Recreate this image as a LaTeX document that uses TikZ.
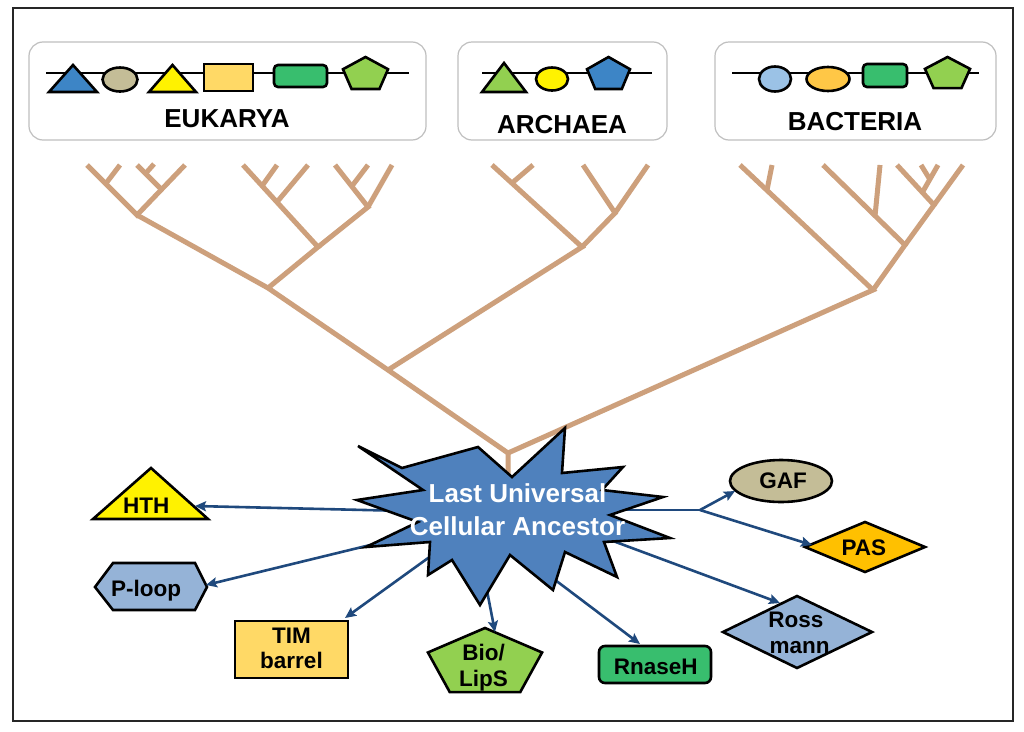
\documentclass[tikz,border=0pt]{standalone}
\usepackage{fontspec}
\setmainfont{Liberation Sans}
\usetikzlibrary{arrows.meta}
\definecolor{treecol}{RGB}{205,160,124}
\definecolor{arrowblue}{RGB}{31,73,125}
\definecolor{starblue}{RGB}{79,129,189}
\definecolor{dblue}{RGB}{61,133,198}
\definecolor{tanfill}{RGB}{196,189,151}
\definecolor{lorange}{RGB}{255,217,102}
\definecolor{dgreen}{RGB}{56,190,110}
\definecolor{lgreen}{RGB}{146,208,80}
\definecolor{lblue}{RGB}{149,179,215}
\definecolor{pasorange}{RGB}{255,192,0}
\definecolor{bacblue}{RGB}{155,194,230}
\definecolor{bacorange}{RGB}{255,199,70}
\newcommand\drawpent[5]{\draw[#1] (#2,{#3-#5}) -- ({#2+0.951*#4},{#3-0.309*#5}) -- ({#2+0.588*#4},{#3+0.809*#5}) -- ({#2-0.588*#4},{#3+0.809*#5}) -- ({#2-0.951*#4},{#3-0.309*#5}) -- cycle;}
\begin{document}
\begin{tikzpicture}[x=1pt,y=-1pt,
  panel/.style={draw=black!25,line width=1.2pt,rounded corners=14pt,fill=white},
  domline/.style={draw=black,line width=2.6pt},
  dom/.style={draw=black,line width=2.6pt},
  treeline/.style={draw=treecol,line width=5pt},
  arr/.style={draw=arrowblue,line width=2.6pt,-{Stealth[length=11pt,width=10pt,inset=2pt]}},
  biglabel/.style={font=\fontsize{26}{30}\selectfont\bfseries,inner sep=0pt,anchor=base},
  lab/.style={font=\fontsize{22.5}{26}\selectfont\bfseries,inner sep=0pt,anchor=base},
  starlab/.style={font=\fontsize{26}{32}\selectfont\bfseries,text=white,inner sep=0pt,anchor=base}]
\useasboundingbox (0,0) rectangle (1024,731);
\fill[white] (0,0) rectangle (1024,731);
\draw[black!85,line width=2pt] (12.7,8) rectangle (1013,720.5);

% ---- top panels ----
\draw[panel] (29,42) rectangle (426,140);
\draw[panel] (458,42) rectangle (667,140);
\draw[panel] (715,42) rectangle (996,140);

% Eukarya domains
\draw[domline] (46,73) -- (409,73);
\draw[dom,fill=dblue] (49,92) -- (97,92) -- (73,65) -- cycle;
\draw[dom,fill=tanfill] (120,79.5) ellipse [x radius=17.5pt,y radius=12pt];
\draw[dom,fill=yellow] (149,92) -- (196,92) -- (172.5,65) -- cycle;
\draw[dom,fill=lorange] (204,64) rectangle (253,91);
\draw[dom,fill=dgreen,rounded corners=4pt] (274,65) rectangle (327,87);
\drawpent{dom,fill=lgreen}{365.5}{74.7}{23.7}{17.7}
\node[biglabel] (euk) at (227,127) {EUKARYA};

% Archaea domains
\draw[domline] (482,73) -- (652,73);
\draw[dom,fill=lgreen] (482,92) -- (526,92) -- (504,63) -- cycle;
\draw[dom,fill=yellow] (552,79) ellipse [x radius=16pt,y radius=11.5pt];
\drawpent{dom,fill=dblue}{608.5}{74.7}{22.6}{17.7}
\node[biglabel] (arc) at (562,133) {ARCHAEA};

% Bacteria domains
\draw[domline] (732,73) -- (979,73);
\draw[dom,fill=bacblue] (775,79) ellipse [x radius=16pt,y radius=12.5pt];
\draw[dom,fill=bacorange] (828,79) ellipse [x radius=21.5pt,y radius=12pt];
\draw[dom,fill=dgreen,rounded corners=4pt] (863,64) rectangle (907,87);
\drawpent{dom,fill=lgreen}{947.5}{74.2}{23.7}{17.2}
\node[biglabel] (bacl) at (855,130) {BACTERIA};

% ---- tree ----
\coordinate (root) at (508,453);
\coordinate (trunk) at (508,480);
\coordinate (EA) at (388,370);
\coordinate (EUK) at (268,288);
\coordinate (E1) at (137,215);
\coordinate (E2) at (318,247);
\coordinate (E3) at (368,207);
\coordinate (ARC) at (582,247);
\coordinate (A1) at (615,213);
\coordinate (BAC) at (873,290);
\coordinate (B2) at (905,245);
\coordinate (B3) at (934,205);

\draw[treeline] (trunk) -- (root) -- (EA) -- (EUK) -- (E1);
\draw[treeline] (87,165) -- (E1) -- (185,165);
\draw[treeline] (107,182) -- (120,165);
\draw[treeline] (160,188) -- (137,165);
\draw[treeline] (146,173) -- (154,164);
\draw[treeline] (EUK) -- (E2) -- (243,165);
\draw[treeline] (262,186) -- (277,165);
\draw[treeline] (277,202) -- (308,165);
\draw[treeline] (E2) -- (E3) -- (335,165);
\draw[treeline] (352,186) -- (368,165);
\draw[treeline] (E3) -- (392,165);
\draw[treeline] (EA) -- (ARC) -- (492,165);
\draw[treeline] (512,183) -- (533,165);
\draw[treeline] (ARC) -- (A1) -- (583,165);
\draw[treeline] (A1) -- (648,165);
\draw[treeline] (root) -- (BAC) -- (740,165);
\draw[treeline] (767,190) -- (772,165);
\draw[treeline] (BAC) -- (B2) -- (823,165);
\draw[treeline] (875,216) -- (880,165);
\draw[treeline] (B2) -- (B3) -- (897,165);
\draw[treeline] (922,193) -- (938,165);
\draw[treeline] (929,178) -- (921,165);
\draw[treeline] (B3) -- (963,165);

% ---- target shapes ----
\draw[dom,fill=yellow] (93,519) -- (208,519) -- (151,468) -- cycle;
\node[lab] (hth) at (146.3,513.3) {HTH};

\draw[dom,fill=lblue] (95,587) -- (113,563) -- (195,563) -- (207,587) -- (195,610) -- (113,610) -- cycle;
\node[lab] (ploop) at (146.2,596.7) {P-loop};

\draw[dom,fill=lorange] (235,621) rectangle (348,678);
\node[lab] (tim) at (291.5,643.3) {TIM};
\node[lab] (barrel) at (291.5,668.3) {barrel};

\drawpent{dom,fill=lgreen}{485}{663.4}{60}{35.4}
\node[lab] (bio) at (483.5,660) {Bio/};
\node[lab] (lips) at (483.5,686) {LipS};

\draw[dom,fill=dgreen,rounded corners=6pt] (599,646) rectangle (711,683);
\node[lab] (rnaseh) at (655.8,674) {RnaseH};

\draw[dom,fill=lblue] (723,632) -- (797,596) -- (872,632) -- (797,668) -- cycle;
\node[lab] (ross) at (795.8,627.3) {Ross};
\node[lab] (mann) at (799.5,653.3) {mann};

\draw[dom,fill=pasorange] (805,547) -- (865,522) -- (925,547) -- (865,572) -- cycle;
\node[lab] (pas) at (863.8,555) {PAS};

\draw[dom,fill=tanfill] (781,481) ellipse [x radius=51pt,y radius=21pt];
\node[lab] (gaf) at (783,488.3) {GAF};

% ---- connectors ----
\coordinate (sHTH) at (450,512);   \coordinate (tHTH) at (195,506);
\coordinate (sPL) at (440,528);    \coordinate (tPL) at (206,585);
\coordinate (sTIM) at (460,535);   \coordinate (tTIM) at (345,618);
\coordinate (sBIO) at (483,570);   \coordinate (tBIO) at (495,632);
\coordinate (sRN) at (530,561);    \coordinate (tRN) at (640,644);
\coordinate (sRM) at (570,525);    \coordinate (tRM) at (780,603);
\coordinate (sF) at (590,510);     \coordinate (fork) at (700,510);
\coordinate (tGAF) at (735,491);   \coordinate (tPAS) at (812,545);

\draw[arr] (sHTH) -- (tHTH);
\draw[arr] (sPL) -- (tPL);
\draw[arr] (sTIM) -- (tTIM);
\draw[arr] (sBIO) -- (tBIO);
\draw[arr] (sRN) -- (tRN);
\draw[arr] (sRM) -- (tRM);
\draw[draw=arrowblue,line width=2.6pt] (sF) -- (fork);
\draw[arr] (fork) -- (tGAF);
\draw[arr] (fork) -- (tPAS);

% ---- LUCA star ----
\draw[draw=black,line width=2.6pt,fill=starblue,line join=miter]
  (358,446) -- (402,468) -- (478,447) -- (512,477) -- (565,428) -- (562,473)
  -- (623,467) -- (602,490) -- (663,497) -- (610,515) -- (670,538) -- (604,542)
  -- (617,577) -- (565,552) -- (553,590) -- (510,555) -- (480,605) -- (452,560)
  -- (428,575) -- (430,542) -- (366,547) -- (418,522) -- (357,500) -- (423,490) -- cycle;
\node[starlab] (luca) at (517.5,502) {Last Universal};
\node[starlab] (luca2) at (517.5,535) {Cellular Ancestor};
\end{tikzpicture}
\end{document}
